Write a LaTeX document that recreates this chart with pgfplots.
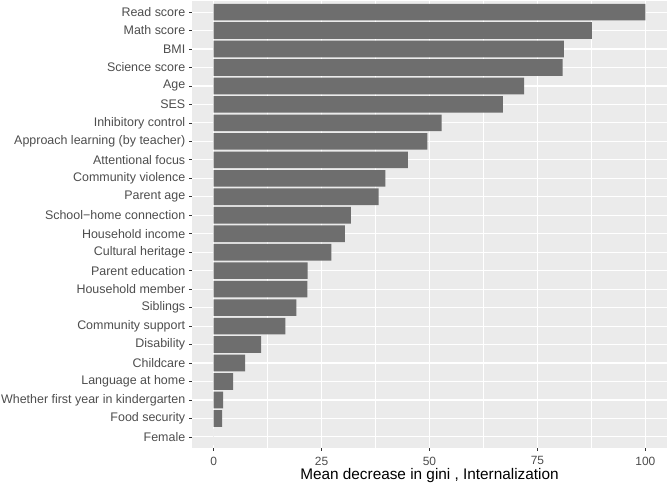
\documentclass[border=0pt]{standalone}
\usepackage{pgfplots}
\pgfplotsset{compat=1.18}
\usepackage{fontspec}
\setmainfont{Liberation Sans}

\definecolor{panelbg}{HTML}{EBEBEB}
\definecolor{barfill}{HTML}{6E6E6E}
\definecolor{ticktext}{HTML}{4D4D4D}
\definecolor{tickmark}{HTML}{333333}

\begin{document}
\begin{tikzpicture}
  \begin{axis}[
      name=main,
      scale only axis,
      width=475bp, height=447bp,
      xmin=-5, xmax=105,
      ymin=0.4, ymax=24.6,
      xbar, bar width=0.9,
      axis background/.style={fill=panelbg},
      axis line style={draw=none},
      xtick={0,25,50,75,100},
      minor xtick={12.5,37.5,62.5,87.5},
      ytick={1,...,24},
      yticklabels={Female, Food security, Whether first year in kindergarten,
        Language at home, Childcare, Disability, Community support, Siblings,
        Household member, Parent education, Cultural heritage, Household income,
        School−home connection, Parent age, Community violence, Attentional focus,
        Approach learning (by teacher), Inhibitory control, SES, Age,
        Science score, BMI, Math score, Read score},
      grid=both,
      major grid style={white, line width=1.1bp},
      minor grid style={white, line width=0.55bp},
      tick align=outside,
      major tick length=2.75bp,
      minor tick length=0pt,
      tick style={tickmark, line width=0.8bp},
      xtick pos=bottom, ytick pos=left,
      ticklabel style={font=\fontsize{12.5}{14}\selectfont, text=ticktext},
      /pgf/number format/assume math mode=true,
      xticklabel style={font=\fontsize{12}{14}\selectfont, yshift=-2.5bp},
      yticklabel style={xshift=-0.5bp},
      xlabel={Mean decrease in gini , Internalization},
      xlabel style={font=\fontsize{15.4}{17}\selectfont,
        at={(axis description cs:0.5,0)}, anchor=base, yshift=-31bp},
    ]
    \addplot[fill=barfill, draw=none] coordinates {
      (0,1) (2.0,2) (2.2,3) (4.5,4) (7.3,5) (11.0,6) (16.6,7) (19.2,8)
      (21.7,9) (21.8,10) (27.3,11) (30.4,12) (31.8,13) (38.2,14) (39.8,15)
      (45.0,16) (49.5,17) (52.8,18) (67.0,19) (71.9,20) (80.8,21) (81.1,22)
      (87.6,23) (100,24)
    };
  \end{axis}
  \pgfresetboundingbox
  \path[use as bounding box] ([xshift=-192bp,yshift=-37bp]main.south west)
    rectangle ([yshift=1bp]main.north east);
\end{tikzpicture}
\end{document}
